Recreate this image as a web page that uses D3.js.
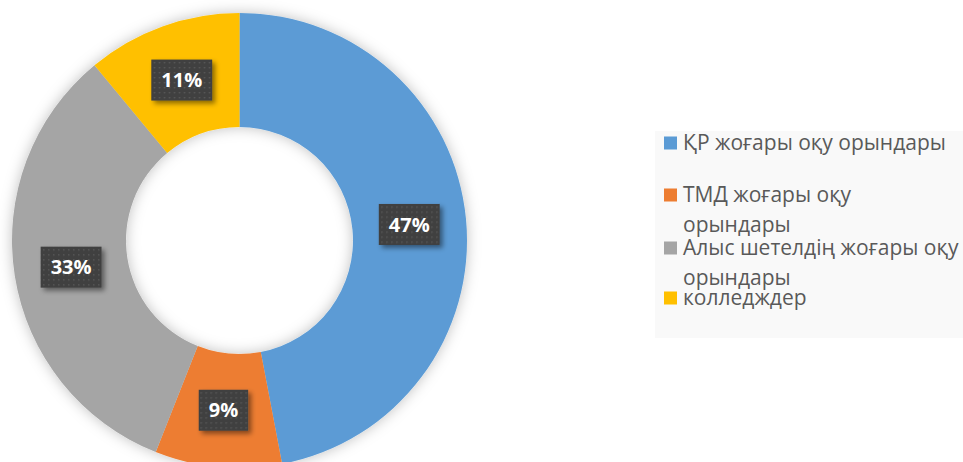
<!DOCTYPE html>
<html>
<head>
<meta charset="utf-8">
<script src="https://cdn.jsdelivr.net/npm/d3@7"></script>
<style>
  body { margin: 0; background: #fff; }
  svg { display: block; }
</style>
</head>
<body>
<div id="chart"></div>
<script>
// chart data
var categories = ["ҚР жоғары оқу орындары", "ТМД жоғары оқу орындары", "Алыс шетелдің жоғары оқу орындары", "колледждер"];
// legend text as it is wrapped in the picture
var legendLines = [["ҚР жоғары оқу орындары"], ["ТМД жоғары оқу", "орындары"], ["Алыс шетелдің жоғары оқу", "орындары"], ["колледждер"]];
var values = [47, 9, 33, 11];
var colors = ["#5b9bd5", "#ed7d31", "#a5a5a5", "#ffc000"];

var W = 963, H = 462;
var cx = 239.5, cy = 240.5;
var outerR = 227.5, innerR = 113.5;

var svg = d3.select("#chart").append("svg")
    .attr("width", W)
    .attr("height", H);

var defs = svg.append("defs");

// soft shadow for the ring
var f = defs.append("filter").attr("id", "ringShadow")
    .attr("x", "-20%").attr("y", "-20%").attr("width", "140%").attr("height", "140%");
f.append("feDropShadow").attr("dx", 0).attr("dy", 0).attr("stdDeviation", 7)
    .attr("flood-color", "#000").attr("flood-opacity", 0.25);

// shadow for label boxes
var f2 = defs.append("filter").attr("id", "boxShadow")
    .attr("x", "-30%").attr("y", "-30%").attr("width", "170%").attr("height", "170%");
f2.append("feDropShadow").attr("dx", 3).attr("dy", 3).attr("stdDeviation", 2.5)
    .attr("flood-color", "#000").attr("flood-opacity", 0.45);

// dotted fill for label boxes
var pat = defs.append("pattern").attr("id", "dots")
    .attr("patternUnits", "userSpaceOnUse").attr("width", 5).attr("height", 5);
pat.append("rect").attr("width", 5).attr("height", 5).attr("fill", "#404040");
pat.append("rect").attr("x", 2).attr("y", 2).attr("width", 1.4).attr("height", 1.4).attr("fill", "#5a5a5a");

// legend background
svg.append("rect")
    .attr("x", 655).attr("y", 131)
    .attr("width", W - 655).attr("height", 207)
    .attr("fill", "#f9f9f9");

var pie = d3.pie().sort(null).value(function(d){ return d; });
var arc = d3.arc().innerRadius(innerR).outerRadius(outerR);
var arcs = pie(values);

var g = svg.append("g").attr("transform", "translate(" + cx + "," + cy + ")");

g.append("g").attr("filter", "url(#ringShadow)")
  .selectAll("path").data(arcs)
  .enter().append("path")
    .attr("d", arc)
    .attr("fill", function(d, i){ return colors[i]; });

// data labels
var lab = g.selectAll(".lab").data(arcs)
  .enter().append("g")
    .attr("class", "lab")
    .attr("transform", function(d){ return "translate(" + arc.centroid(d) + ")"; });

lab.append("rect")
    .attr("filter", "url(#boxShadow)")
    .attr("fill", "url(#dots)");

lab.append("text")
    .attr("text-anchor", "middle")
    .attr("dy", "0.36em")
    .attr("fill", "#fff")
    .style("font-family", "'Open Sans', sans-serif")
    .style("font-weight", "bold")
    .style("font-size", "20px")
    .text(function(d){ return d.data + "%"; });

lab.each(function(){
    var t = d3.select(this).select("text");
    var w = t.node().getComputedTextLength();
    d3.select(this).select("rect")
        .attr("x", -w / 2 - 10).attr("y", -20.5)
        .attr("width", w + 20).attr("height", 41);
});

// legend
var legX = 664, textX = 683, lineH = 30;
var rowY = [143, 195, 248, 298];
var leg = svg.selectAll(".leg").data(categories)
  .enter().append("g").attr("class", "leg");

leg.append("rect")
    .attr("x", legX)
    .attr("y", function(d, i){ return rowY[i] - 6.5; })
    .attr("width", 13).attr("height", 13)
    .attr("fill", function(d, i){ return colors[i]; });

leg.append("text")
    .attr("x", textX)
    .attr("y", function(d, i){ return rowY[i]; })
    .attr("dy", "0.35em")
    .attr("fill", "#595959")
    .style("font-family", "'Open Sans', sans-serif")
    .style("font-size", "21px")
    .selectAll("tspan").data(function(d, i){ return legendLines[i]; })
    .enter().append("tspan")
      .attr("x", textX)
      .attr("dy", function(d, j){ return j ? lineH : null; })
      .text(function(d){ return d; });
</script>
</body>
</html>
